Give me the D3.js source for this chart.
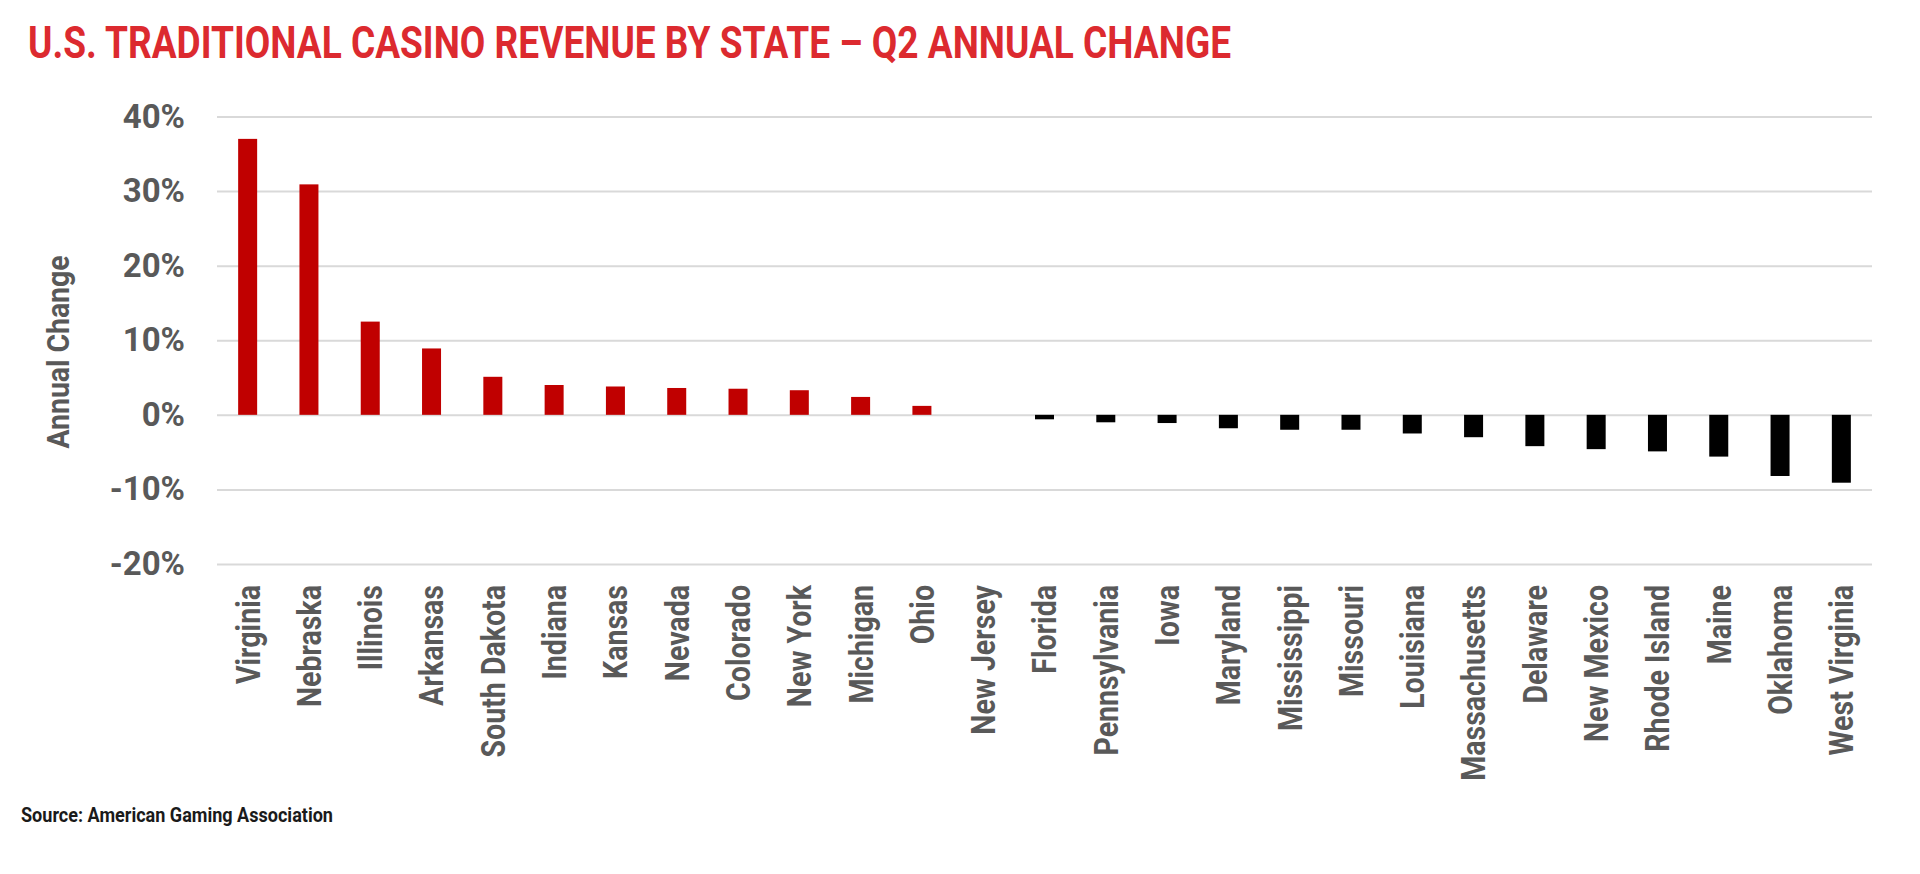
<!DOCTYPE html>
<html>
<head>
<meta charset="utf-8">
<script src="https://cdn.jsdelivr.net/npm/d3@7"></script>
<style>
  body { margin: 0; background: #fff; }
  svg { display: block; font-family: Roboto, "Liberation Sans", sans-serif; }
</style>
</head>
<body>
<svg id="chart"></svg>
<script>
"use strict";

const states = ["Virginia", "Nebraska", "Illinois", "Arkansas", "South Dakota", "Indiana",
  "Kansas", "Nevada", "Colorado", "New York", "Michigan", "Ohio", "New Jersey", "Florida",
  "Pennsylvania", "Iowa", "Maryland", "Mississippi", "Missouri", "Louisiana", "Massachusetts",
  "Delaware", "New Mexico", "Rhode Island", "Maine", "Oklahoma", "West Virginia"];
const change = [37.0, 30.9, 12.5, 8.9, 5.1, 4.0, 3.8, 3.6, 3.5, 3.3, 2.4, 1.2, 0.0, -0.6,
  -1.0, -1.1, -1.8, -2.0, -2.0, -2.5, -3.0, -4.2, -4.6, -4.9, -5.6, -8.2, -9.1];
const yTicks = [-20, -10, 0, 10, 20, 30, 40];

const W = 1920, H = 874;
const plotLeft = 217, plotRight = 1872, plotTop = 116.5, plotBottom = 564;

const chart = d3.select('#chart').attr('width', W).attr('height', H);

const x = d3.scaleBand().domain(states).range([plotLeft, plotRight]).paddingInner(0.69).paddingOuter(0.345);
const y = d3.scaleLinear().domain([-20, 40]).range([plotBottom, plotTop]);

// title
chart.append('text')
  .attr('x', 28).attr('y', 58)
  .attr('textLength', 1203).attr('lengthAdjust', 'spacingAndGlyphs')
  .style('font-size', '44px').style('font-weight', 700).style('fill', '#dc2a2f')
  .text('U.S. TRADITIONAL CASINO REVENUE BY STATE \u2013 Q2 ANNUAL CHANGE');

// gridlines + y labels
const yAxis = chart.append('g')
  .attr('transform', `translate(${plotLeft},0)`)
  .call(d3.axisLeft(y).tickValues(yTicks).tickSize(-(plotRight - plotLeft)).tickPadding(32)
    .tickFormat(d => d + '%'));
yAxis.select('.domain').remove();
yAxis.selectAll('line').attr('stroke', '#d9d9d9').attr('stroke-width', 2);
yAxis.selectAll('text')
  .attr('fill', '#595959')
  .style('font-size', '33px').style('font-weight', 700).style('font-family', 'Roboto');

chart.append('text')
  .attr('transform', 'translate(58,352) rotate(-90)')
  .attr('text-anchor', 'middle').attr('dy', '0.35em')
  .attr('textLength', 193).attr('lengthAdjust', 'spacingAndGlyphs')
  .style('font-size', '31px').style('font-weight', 700).style('fill', '#595959')
  .text('Annual Change');

// bars
chart.append('g').selectAll('rect')
  .data(states)
  .join('rect')
  .attr('x', d => x(d))
  .attr('width', x.bandwidth())
  .attr('y', (d, i) => y(Math.max(0, change[i])))
  .attr('height', (d, i) => Math.abs(y(change[i]) - y(0)))
  .attr('fill', (d, i) => change[i] >= 0 ? '#c00000' : '#000');

// state labels
const xAxis = chart.append('g')
  .attr('transform', `translate(0,${plotBottom})`)
  .call(d3.axisBottom(x).tickSize(0));
xAxis.select('.domain').remove();
xAxis.selectAll('text')
  .attr('x', 0).attr('y', 0).attr('dy', '0.35em')
  .attr('text-anchor', 'end')
  .attr('transform', 'translate(0,21) rotate(-90) scale(0.84,1)')
  .attr('fill', '#595959')
  .style('font-size', '34px').style('font-weight', 700).style('font-family', 'Roboto');

// source
chart.append('text')
  .attr('x', 21).attr('y', 822)
  .attr('textLength', 312).attr('lengthAdjust', 'spacingAndGlyphs')
  .style('font-size', '21px').style('font-weight', 700).style('fill', '#1a1a1a')
  .text('Source: American Gaming Association');
</script>
</body>
</html>
